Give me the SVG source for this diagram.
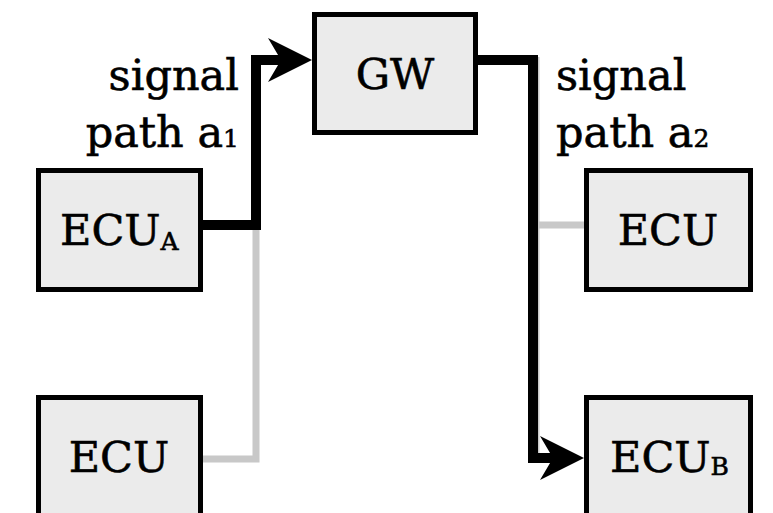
<svg xmlns="http://www.w3.org/2000/svg" width="773" height="513" viewBox="0 0 773 513">
<style>
.box{fill:#ebebeb;stroke:#000;stroke-width:5}
.t{font-family:"DejaVu Serif","Liberation Serif",serif;font-size:43px;fill:#000;stroke:#000;stroke-width:0.6}
.sub{font-size:25px}
.gray{fill:none;stroke:#c8c8c8;stroke-width:7}
.sig{fill:none;stroke:#000;stroke-width:10;stroke-linejoin:miter}
</style>
<defs>
<marker id="arr" markerUnits="userSpaceOnUse" viewBox="-20 -23 46 46" refX="0" refY="0" markerWidth="46" markerHeight="46" orient="auto" overflow="visible">
<path d="M25,0 L-19,-22 L-6,0 L-19,22 Z" fill="#000"/>
</marker>
</defs>
<rect width="773" height="513" fill="#fff"/>
<g id="connectors">
<path class="gray" d="M203,459 H256 V225"/>
<path class="gray" d="M584,225 H536 M536,57 V455"/>
<path class="sig" d="M203,225 H256 V60 H287" marker-end="url(#arr)"/>
<path class="sig" d="M478,60 H533 V458 H559" marker-end="url(#arr)"/>
</g>
<g id="gw"><rect class="box" x="314.5" y="14.5" width="161" height="118"/><text class="t" x="395" y="89" text-anchor="middle">GW</text></g>
<g id="ecu-a"><rect class="box" x="38.5" y="170.5" width="162" height="119"/><text class="t" x="60" y="245">ECU<tspan class="sub" dy="5">A</tspan></text></g>
<g id="ecu-bl"><rect class="box" x="38.5" y="397.5" width="162" height="140"/><text class="t" x="119" y="472" text-anchor="middle">ECU</text></g>
<g id="ecu-r"><rect class="box" x="586.5" y="170.5" width="164" height="119"/><text class="t" x="668" y="245" text-anchor="middle">ECU</text></g>
<g id="ecu-b"><rect class="box" x="586.5" y="397.5" width="164" height="140"/><text class="t" x="610" y="472">ECU<tspan class="sub" dy="3">B</tspan></text></g>
<g id="labels">
<text class="t" x="239" y="90" text-anchor="end">signal</text>
<text class="t" x="239" y="147" text-anchor="end">path a<tspan class="sub">1</tspan></text>
<text class="t" x="556" y="90">signal</text>
<text class="t" x="556" y="147">path a<tspan class="sub">2</tspan></text>
</g>
</svg>
